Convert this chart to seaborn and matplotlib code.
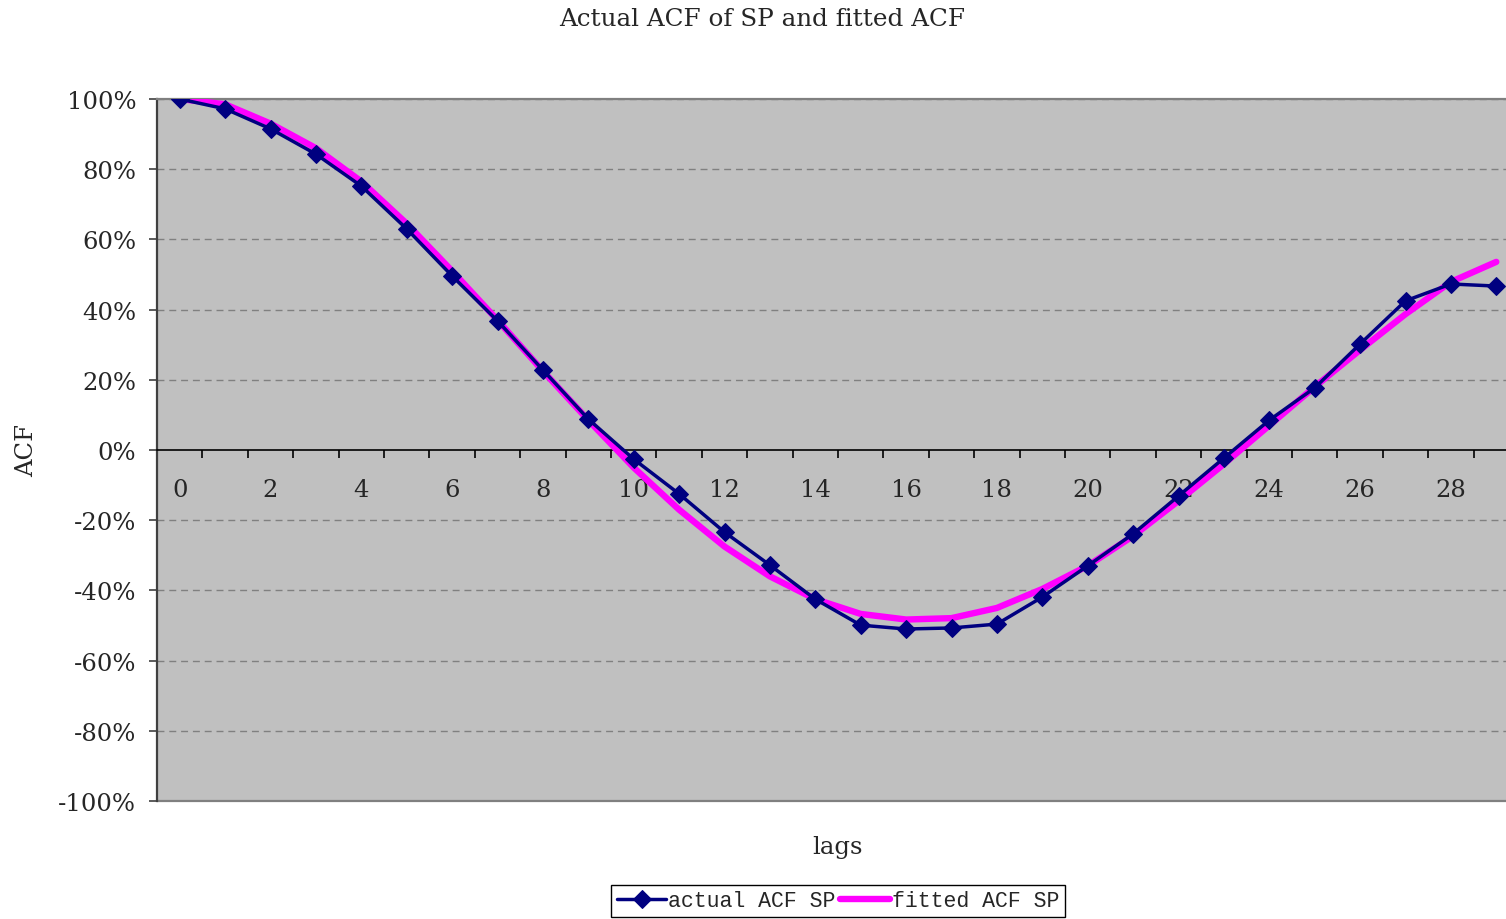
import matplotlib
matplotlib.use("Agg")
import matplotlib.pyplot as plt
import seaborn as sns
import numpy as np
import pandas as pd
from matplotlib.ticker import PercentFormatter, FixedLocator

lags = list(range(30))
actual_acf = [1.000, 0.972, 0.915, 0.843, 0.752, 0.630, 0.496, 0.368, 0.228, 0.088,
              -0.026, -0.125, -0.234, -0.328, -0.425, -0.499, -0.510, -0.507, -0.496, -0.419,
              -0.330, -0.239, -0.131, -0.023, 0.085, 0.177, 0.302, 0.425, 0.473, 0.467]
fitted_acf = [1.000, 0.985, 0.930, 0.860, 0.765, 0.645, 0.510, 0.370, 0.225, 0.085,
              -0.050, -0.170, -0.275, -0.360, -0.425, -0.467, -0.483, -0.479, -0.450, -0.396,
              -0.330, -0.245, -0.145, -0.040, 0.070, 0.180, 0.285, 0.387, 0.479, 0.536]
y_ticks = [-1.0, -0.8, -0.6, -0.4, -0.2, 0.0, 0.2, 0.4, 0.6, 0.8, 1.0]
x_labels = list(range(0, 30, 2))

sns.set_style("ticks")
plt.rcParams["font.family"] = ["DejaVu Serif"]
plt.rcParams["axes.unicode_minus"] = False

df = pd.DataFrame({"lag": lags, "actual": actual_acf, "fitted": fitted_acf})

W, H = 1506, 920
fig = plt.figure(figsize=(W / 100, H / 100), dpi=100)
ax = fig.add_axes([157 / W, 1 - 802 / H, 1362 / W, 702 / H])
ax.set_facecolor("#C0C0C0")

sns.lineplot(data=df, x="lag", y="fitted", ax=ax, color="#FF00FF", linewidth=4.6,
             label="fitted ACF SP", zorder=3)
sns.lineplot(data=df, x="lag", y="actual", ax=ax, color="#000080", linewidth=2.5,
             marker="D", markersize=9.5, markeredgecolor="#000080",
             label="actual ACF SP", zorder=4)

ax.set_xlim(-0.5, 29.5)
ax.set_ylim(-1.0, 1.0)

# gridlines
for v in y_ticks:
    if v != 0.0:
        ax.axhline(v, color="#808080", linewidth=1.0, linestyle=(0, (5, 3.5)), zorder=1)

# spines
ax.spines["right"].set_visible(False)
ax.spines["top"].set_color("#808080")
ax.spines["top"].set_linewidth(1.6)
ax.spines["left"].set_color("#404040")
ax.spines["left"].set_linewidth(1.6)
ax.spines["bottom"].set_position(("data", 0))
ax.spines["bottom"].set_color("black")
ax.spines["bottom"].set_linewidth(1.2)
ax.axhline(-1.0, color="#808080", linewidth=1.6, clip_on=False, zorder=2)

# y axis
ax.yaxis.set_major_locator(FixedLocator(y_ticks))
ax.yaxis.set_major_formatter(PercentFormatter(xmax=1, decimals=0))
ax.tick_params(axis="y", direction="out", length=6, width=1.2, color="#404040",
               pad=9, labelsize=17.5)

# x axis: boundary ticks, labels at even lags
ax.xaxis.set_major_locator(FixedLocator([k + 0.5 for k in range(29)]))
ax.xaxis.set_major_formatter(plt.NullFormatter())
ax.xaxis.set_minor_locator(FixedLocator(x_labels))
ax.set_xticklabels([str(v) for v in x_labels], minor=True)
ax.tick_params(axis="x", which="major", direction="out", length=6, width=1.2, color="black")
ax.tick_params(axis="x", which="minor", length=0, pad=20, labelsize=17.5)

ax.set_xlabel("")
ax.set_ylabel("")
fig.text(27 / W, 1 - 451 / H, "ACF", rotation=90, ha="center", va="center", fontsize=17.5)
fig.text(838 / W, 1 - 848 / H, "lags", ha="center", va="center", fontsize=17.5)
fig.text(762 / W, 1 - 20 / H, "Actual ACF of SP and fitted ACF", ha="center", va="center",
         fontsize=17.7)

# legend
ax.get_legend().remove()
handles, labels = ax.get_legend_handles_labels()
order = [1, 0]
leg = fig.legend([handles[i] for i in order], [labels[i] for i in order],
                 loc="center", bbox_to_anchor=(838 / W, 1 - 902 / H), ncol=2,
                 frameon=True, fancybox=False, edgecolor="black", framealpha=1,
                 prop={"family": "Liberation Mono", "size": 15.5},
                 handlelength=2.3, handletextpad=0.1, columnspacing=0.2,
                 borderpad=0.25, borderaxespad=0)
leg.get_frame().set_linewidth(1.0)

fig.savefig("out.png", dpi=100)
